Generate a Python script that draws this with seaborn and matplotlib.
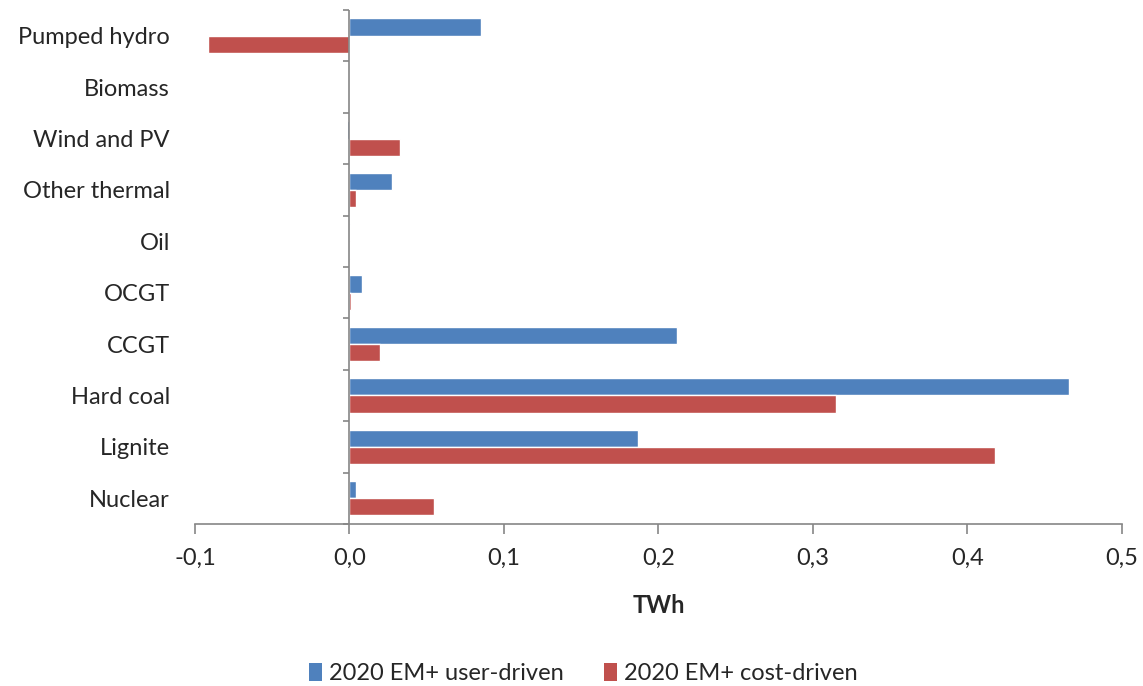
import numpy as np
import pandas as pd
import matplotlib
matplotlib.use("Agg")
import matplotlib.pyplot as plt
import seaborn as sns
from matplotlib.patches import Patch

# Data (TWh)
categories = ["Pumped hydro", "Biomass", "Wind and PV", "Other thermal", "Oil",
              "OCGT", "CCGT", "Hard coal", "Lignite", "Nuclear"]
series_names = ["2020 EM+ user-driven", "2020 EM+ cost-driven"]
user_driven = [0.0848, 0.0, -0.0015, 0.0272, 0.0006, 0.0084, 0.2120, 0.4660, 0.1870, 0.0045]
cost_driven = [-0.0915, 0.0, 0.0330, 0.0045, 0.0003, 0.0013, 0.0200, 0.3150, 0.4175, 0.0550]
x_ticks = [-0.1, 0.0, 0.1, 0.2, 0.3, 0.4, 0.5]

colors = ["#4F81BD", "#C0504D"]
axis_grey = "#868686"

df = pd.DataFrame({
    "category": categories * 2,
    "series": [series_names[0]] * len(categories) + [series_names[1]] * len(categories),
    "value": user_driven + cost_driven,
})

sns.set_style("white")
plt.rcParams["font.family"] = ["Lato", "DejaVu Sans"]
fs = 17

fig = plt.figure(figsize=(11.43, 6.86), dpi=100)
ax = fig.add_axes([0.1706, 0.2362, 0.8110, 0.7492])

sns.barplot(data=df, x="value", y="category", hue="series", order=categories,
            hue_order=series_names, palette=colors, orient="h", width=0.67,
            gap=0, saturation=1, legend=False, ax=ax)

ax.set_xlim(-0.1, 0.5)
ax.set_ylim(len(categories) - 0.5, -0.5)

# spines: only bottom, vertical axis drawn at zero
for s in ["top", "right", "left"]:
    ax.spines[s].set_visible(False)
ax.spines["bottom"].set_color(axis_grey)
ax.spines["bottom"].set_linewidth(1.2)
ax.axvline(0, color=axis_grey, linewidth=1.2, zorder=3)
ax.hlines(np.arange(len(categories) + 1) - 0.5, -0.0045, 0, color=axis_grey,
          linewidth=1.2, zorder=3, clip_on=False)

ax.set_xticks(x_ticks)
ax.set_xticklabels([f"{v:.1f}".replace(".", ",") for v in x_ticks], fontsize=fs)
ax.tick_params(axis="x", length=7, width=1.2, color=axis_grey, direction="out",
               bottom=True, pad=10)
ax.tick_params(axis="y", length=0, labelsize=fs, pad=18)

ax.set_xlabel("TWh", fontsize=fs, fontweight="bold", labelpad=18)
ax.set_ylabel("")
ax.grid(False)

handles = [Patch(facecolor=c, edgecolor="none") for c in colors]
fig.legend(handles, series_names, loc="lower center", bbox_to_anchor=(0.51, -0.028),
           ncol=2, frameon=False, fontsize=fs, handlelength=0.55, handleheight=0.8,
           handletextpad=0.3, columnspacing=1.7)

fig.savefig("out.png", dpi=100, facecolor="white")
